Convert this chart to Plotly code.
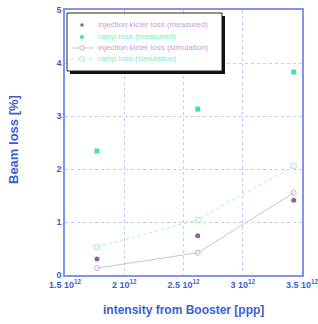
import plotly.graph_objects as go

intensity = [1.77, 2.62, 3.43]  # x 10^12 ppp
inj_measured = [0.30, 0.74, 1.41]
ramp_measured = [2.34, 3.13, 3.83]
inj_sim = [0.13, 0.42, 1.55]
ramp_sim = [0.53, 1.04, 2.06]

series_names = ["injection kicler loss (measured)", "ramp loss (measured)",
                "injection kicler loss (simulation)", "ramp loss (simulation)"]

x_ticks = [1.5, 2.0, 2.5, 3.0, 3.5]
x_ticklabels = ["<b>1.5 10<sup>12</sup></b>", "<b>2 10<sup>12</sup></b>", "<b>2.5 10<sup>12</sup></b>",
                "<b>3 10<sup>12</sup></b>", "<b>3.5 10<sup>12</sup></b>"]
y_ticks = [0, 1, 2, 3, 4, 5]

purple = "#8e5fae"
green = "#3fe3a8"
lpurple = "#c3a0d6"
lgreen = "#7debc0"
simgray = "#c8c8c8"
simpurple = "#c8b0d0"
simgreen = "#a8f0d0"
blue = "#3a5fd0"

W, H = 318, 324
L, R, T, B = 65, 16, 10, 49
PW, PH = W - L - R, H - T - B

def px(x):
    return (x - L) / PW

def py(y):
    return (H - B - y) / PH

fig = go.Figure()
fig.add_trace(go.Scatter(x=intensity, y=inj_sim, mode="lines+markers", name=series_names[2],
                         line=dict(color=simgray, width=1),
                         marker=dict(symbol="circle-open", size=5, color=simpurple)))
fig.add_trace(go.Scatter(x=intensity, y=ramp_sim, mode="lines+markers", name=series_names[3],
                         line=dict(color=simgreen, width=1, dash="dot"),
                         marker=dict(symbol="square-open", size=5, color=simgreen)))
fig.add_trace(go.Scatter(x=intensity, y=inj_measured, mode="markers", name=series_names[0],
                         marker=dict(symbol="circle", size=5, color=purple)))
fig.add_trace(go.Scatter(x=intensity, y=ramp_measured, mode="markers", name=series_names[1],
                         marker=dict(symbol="square", size=5, color=green)))

shapes = []
annotations = []
# legend box with shadow
bx0, bx1, by0, by1 = 67, 222, 13, 71
shapes.append(dict(type="rect", xref="paper", yref="paper",
                   x0=px(bx0 + 3), x1=px(bx1 + 3), y0=py(by1 + 3), y1=py(by0 + 3),
                   fillcolor="#111111", line=dict(width=0), layer="above"))
shapes.append(dict(type="rect", xref="paper", yref="paper",
                   x0=px(bx0), x1=px(bx1), y0=py(by1), y1=py(by0),
                   fillcolor="white", line=dict(color="#222222", width=1), layer="above"))
rows = [25, 37, 48, 59]
colors = [lpurple, lgreen, lpurple, lgreen]
sx = 82
r = 1.8
shapes.append(dict(type="circle", xref="paper", yref="paper", x0=px(sx - r), x1=px(sx + r),
                   y0=py(rows[0] + r), y1=py(rows[0] - r), fillcolor=purple,
                   line=dict(width=0), layer="above"))
shapes.append(dict(type="rect", xref="paper", yref="paper", x0=px(sx - r), x1=px(sx + r),
                   y0=py(rows[1] + r), y1=py(rows[1] - r), fillcolor=green,
                   line=dict(width=0), layer="above"))
shapes.append(dict(type="line", xref="paper", yref="paper", x0=px(71), x1=px(94),
                   y0=py(rows[2]), y1=py(rows[2]), line=dict(color=simgray, width=1), layer="above"))
shapes.append(dict(type="circle", xref="paper", yref="paper", x0=px(sx - 2.2), x1=px(sx + 2.2),
                   y0=py(rows[2] + 2.2), y1=py(rows[2] - 2.2), fillcolor="white",
                   line=dict(color=simpurple, width=1), layer="above"))
shapes.append(dict(type="line", xref="paper", yref="paper", x0=px(71), x1=px(94),
                   y0=py(rows[3]), y1=py(rows[3]), line=dict(color=simgreen, width=1, dash="dot"),
                   layer="above"))
shapes.append(dict(type="rect", xref="paper", yref="paper", x0=px(sx - 2.2), x1=px(sx + 2.2),
                   y0=py(rows[3] + 2.2), y1=py(rows[3] - 2.2), fillcolor="white",
                   line=dict(color=simgreen, width=1), layer="above"))
for name, rowy, c in zip(series_names, rows, colors):
    annotations.append(dict(text=name, xref="paper", yref="paper", x=px(96), y=py(rowy),
                            xanchor="left", yanchor="middle", showarrow=False,
                            font=dict(size=8, color=c, family="Liberation Sans")))

# axis titles
annotations.append(dict(text="<b>intensity from Booster [ppp]</b>", xref="paper", yref="paper",
                        x=px(183), y=py(310), xanchor="center", yanchor="middle",
                        showarrow=False, font=dict(size=12, color=blue)))
annotations.append(dict(text="<b>Beam loss [%]</b>", xref="paper", yref="paper",
                        x=px(13), y=py(140), xanchor="center", yanchor="middle", textangle=-90,
                        showarrow=False, font=dict(size=13, color=blue)))

fig.update_layout(
    width=W, height=H,
    margin=dict(l=L, r=R, t=T, b=B, autoexpand=False),
    paper_bgcolor="white", plot_bgcolor="white",
    font=dict(family="Liberation Sans", size=9, color=blue),
    showlegend=False,
    shapes=shapes, annotations=annotations,
    xaxis=dict(range=[1.5, 3.5], tickvals=x_ticks, ticktext=x_ticklabels,
               showgrid=True, gridcolor="#c4cbf2", griddash="dot", gridwidth=1,
               showline=True, linecolor="#8494e4", linewidth=1.5, mirror=True, zeroline=False,
               ticks="", tickfont=dict(size=9, color=blue), automargin=False,
               ticklabeloverflow="allow"),
    yaxis=dict(range=[0, 5], tickvals=y_ticks,
               ticktext=[f"<b>{v}</b>" for v in y_ticks],
               showgrid=True, gridcolor="#c4cbf2", griddash="dot", gridwidth=1,
               showline=True, linecolor="#8494e4", linewidth=1.5, mirror=True, zeroline=False,
               ticks="", tickfont=dict(size=9, color=blue), automargin=False,
               ticklabeloverflow="allow"),
)

fig.write_html("out.html", config={"displayModeBar": False},
               post_script="document.body.style.margin='0';")
